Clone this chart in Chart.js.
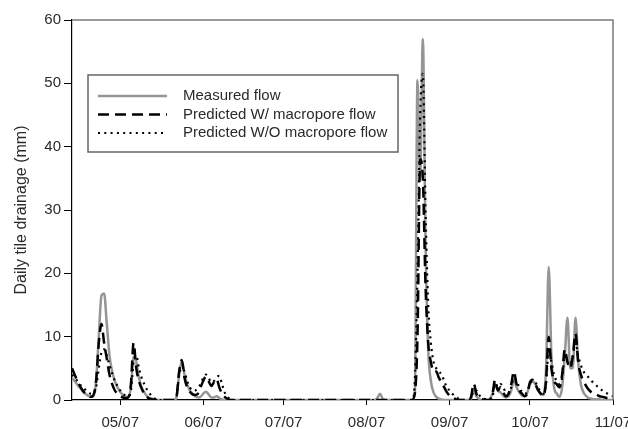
<!DOCTYPE html>
<html>
<head>
<meta charset="utf-8">
<script src="https://cdn.jsdelivr.net/npm/chart.js@4.4.1/dist/chart.umd.min.js"></script>
<style>
  body { margin: 0; background: #fff; }
  canvas { display: block; }
</style>
</head>
<body>
<canvas id="drainChart" width="628" height="429"></canvas>
<script>
// days counted from 2007-04-13 (day 0) to 2007-11-01 (day 202)
const tickDays = [18, 49, 79, 110, 141, 171, 202];
const tickLabels = ['05/07', '06/07', '07/07', '08/07', '09/07', '10/07', '11/07'];
const seriesNames = ['Measured flow', 'Predicted W/ macropore flow', 'Predicted W/O macropore flow'];

// daily tile drainage, mm (one value per day, 10 per row)
const measured = [
  3.5, 3.0, 2.4, 1.9, 1.4, 1.0, 0.7, 0.5, 0.6, 3.0,      // 0
  10, 16.5, 16.8, 12, 7, 4.5, 3, 2, 1.3, 0.8,             // 10
  0.5, 0.5, 2, 6.8, 6, 3.5, 2, 1.2, 0.6, 0.3,             // 20
  0.2, 0.1, 0, 0, 0, 0, 0, 0, 0, 0.4,                     // 30
  4, 6.2, 4, 2.5, 1.5, 1, 0.6, 0.4, 0.5, 1,               // 40
  1.3, 0.9, 0.4, 0.4, 0.6, 0.3, 0.1, 0, 0, 0,             // 50
  0, 0, 0, 0, 0, 0, 0, 0, 0, 0,                           // 60
  0, 0, 0, 0, 0, 0, 0, 0, 0, 0,                           // 70
  0, 0, 0, 0, 0, 0, 0, 0, 0, 0,                           // 80
  0, 0, 0, 0, 0, 0, 0, 0, 0, 0,                           // 90
  0, 0, 0, 0, 0, 0, 0, 0, 0, 0,                           // 100
  0, 0, 0, 0, 0.3, 1.0, 0.2, 0, 0, 0,                     // 110
  0, 0, 0, 0, 0, 0, 0, 0, 1, 50.5,                        // 120
  35, 57, 25, 8, 3, 1.2, 0.5, 0.2, 0.1, 0,                // 130
  0, 0, 0, 0, 0, 0, 0, 0, 0, 0.2,                         // 140
  1.5, 0.6, 0.2, 0, 0, 0, 0.2, 1, 2.5, 1.5,               // 150
  1.2, 0.7, 0.4, 0.6, 1.5, 3.2, 2, 1.2, 0.7, 0.6,         // 160
  1.2, 2.5, 3, 2.5, 1.5, 1, 0.8, 5, 21, 7,                // 170
  2, 1, 0.5, 2, 7, 13, 5, 5, 13, 6,                       // 180
  2.5, 1.2, 0.6, 0.3, 0.2, 0.1, 0.1, 0.1, 0, 0,           // 190
  0, 0, 0                                                 // 200
];

const withMacropore = [
  5, 4, 3, 2.2, 1.5, 1, 0.7, 0.5, 0.8, 3,                 // 0
  9, 12, 9, 6.5, 4, 2.5, 1.5, 1, 0.6, 0.4,                // 10
  0.3, 0.4, 2.5, 9, 5, 3, 1.8, 1, 0.5, 0.2,               // 20
  0.1, 0, 0, 0, 0, 0, 0, 0, 0, 0.5,                       // 30
  4.5, 6.3, 3.5, 2, 1.3, 0.9, 0.8, 1, 2, 3,               // 40
  3.7, 3, 2.2, 2.8, 3.3, 2, 1, 0.5, 0.2, 0,               // 50
  0, 0, 0, 0, 0, 0, 0, 0, 0, 0,                           // 60
  0, 0, 0, 0, 0, 0, 0, 0, 0, 0,                           // 70
  0, 0, 0, 0, 0, 0, 0, 0, 0, 0,                           // 80
  0, 0, 0, 0, 0, 0, 0, 0, 0, 0,                           // 90
  0, 0, 0, 0, 0, 0, 0, 0, 0, 0,                           // 100
  0, 0, 0, 0, 0, 0, 0, 0, 0, 0,                           // 110
  0, 0, 0, 0, 0, 0, 0, 0, 1, 10,                          // 120
  38, 35, 18, 9, 6, 4.5, 4.5, 3.5, 2.8, 2,                // 130
  1.2, 0.7, 0.4, 0.2, 0, 0, 0, 0, 0, 0.5,                 // 140
  2.6, 1, 0.5, 0.2, 0, 0, 0, 1, 3.2, 1.5,                 // 150
  2, 1.2, 0.6, 1, 2.5, 4.5, 2.5, 1.5, 1, 0.6,             // 160
  1, 2.8, 3.2, 2.5, 1.6, 1, 0.6, 3, 10, 5,                // 170
  3, 2.5, 2, 4, 8, 6, 5, 7, 10.5, 6,                      // 180
  4, 3, 2.2, 1.6, 1.2, 1, 0.8, 0.6, 0.5, 0.4,             // 190
  0.3, 0.3, 0.2                                           // 200
];

const withoutMacropore = [
  4, 3.5, 3, 2.4, 2, 1.6, 1.2, 1, 1, 2,                   // 0
  5, 7.5, 8, 7, 5.5, 4.2, 3, 2.2, 1.5, 1,                 // 10
  0.7, 0.6, 1.5, 6, 7, 5, 3.5, 2.5, 1.6, 1,               // 20
  0.5, 0.2, 0, 0, 0, 0, 0, 0, 0, 0.5,                     // 30
  4, 5, 4.5, 3, 2, 1.5, 1.5, 2, 2.5, 3.5,                 // 40
  4, 3.5, 2.8, 3, 3.6, 3.8, 2.5, 1.2, 0.5, 0.2,           // 50
  0, 0, 0, 0, 0, 0, 0, 0, 0, 0,                           // 60
  0, 0, 0, 0, 0, 0, 0, 0, 0, 0,                           // 70
  0, 0, 0, 0, 0, 0, 0, 0, 0, 0,                           // 80
  0, 0, 0, 0, 0, 0, 0, 0, 0, 0,                           // 90
  0, 0, 0, 0, 0, 0, 0, 0, 0, 0,                           // 100
  0, 0, 0, 0, 0, 0, 0, 0, 0, 0,                           // 110
  0, 0, 0, 0, 0, 0, 0, 0, 3, 20,                          // 120
  45, 51.5, 30, 15, 9, 6, 5, 4.5, 4, 3,                   // 130
  2, 1.5, 1, 0.6, 0.3, 0, 0, 0, 0, 0.3,                   // 140
  1.5, 1.5, 0.8, 0.4, 0.2, 0, 0, 0.5, 2.5, 2,             // 150
  2.5, 2, 1.2, 1, 2, 3.5, 3, 2, 1.3, 1,                   // 160
  1.3, 2.5, 3, 2.8, 2, 1.3, 1, 2.5, 8, 6,                 // 170
  4, 3, 2.5, 3.5, 7, 6, 5.5, 7, 9, 7,                     // 180
  5.5, 4.5, 4, 3.5, 3, 2.6, 2.2, 1.8, 1.5, 1.2,           // 190
  1, 0.8, 0.6                                             // 200
];

const FONT = "'Liberation Sans', Arial, sans-serif";

// x qiymatlarini kun raqami bilan bog'lash
function toPoints(values) {
  return values.map((v, i) => ({ x: i, y: v }));
}

// top and right frame lines
const frameLines = {
  id: 'frameLines',
  afterDraw(chart) {
    const { ctx, chartArea: a } = chart;
    ctx.save();
    ctx.strokeStyle = '#7a7a7a';
    ctx.lineWidth = 1.5;
    ctx.beginPath();
    ctx.moveTo(a.left, a.top);
    ctx.lineTo(a.right, a.top);
    ctx.lineTo(a.right, a.bottom);
    ctx.stroke();
    ctx.restore();
  }
};

// legend box drawn inside the plot
const boxLegend = {
  id: 'boxLegend',
  afterDraw(chart) {
    const ctx = chart.ctx;
    const left = 88, top = 75, w = 310, h = 77;
    ctx.save();
    ctx.fillStyle = '#fff';
    ctx.fillRect(left, top, w, h);
    ctx.strokeStyle = '#666';
    ctx.lineWidth = 1.5;
    ctx.strokeRect(left, top, w, h);
    const rows = [96, 114.5, 133];
    chart.data.datasets.forEach((ds, i) => {
      const y = rows[i];
      ctx.beginPath();
      ctx.strokeStyle = ds.borderColor;
      ctx.lineWidth = ds.borderWidth;
      ctx.setLineDash(ds.borderDash || []);
      ctx.moveTo(98, y);
      ctx.lineTo(167, y);
      ctx.stroke();
      ctx.setLineDash([]);
      ctx.fillStyle = '#2a2a2a';
      ctx.font = '15px ' + FONT;
      ctx.textBaseline = 'middle';
      ctx.fillText(ds.label, 183, y);
    });
    ctx.restore();
  }
};

new Chart(document.getElementById('drainChart'), {
  type: 'line',
  data: {
    datasets: [
      {
        label: seriesNames[0],
        data: toPoints(measured),
        borderColor: '#959595',
        borderWidth: 2.5,
        order: 3
      },
      {
        label: seriesNames[1],
        data: toPoints(withMacropore),
        borderColor: '#000',
        borderWidth: 2.5,
        borderDash: [11, 6],
        order: 2
      },
      {
        label: seriesNames[2],
        data: toPoints(withoutMacropore),
        borderColor: '#000',
        borderWidth: 2.2,
        borderDash: [2, 4.3],
        order: 1
      }
    ]
  },
  options: {
    responsive: false,
    animation: false,
    events: [],
    elements: {
      point: { radius: 0 },
      line: { tension: 0.3, cubicInterpolationMode: 'monotone', fill: false }
    },
    layout: { padding: { top: 20, right: 15, left: 0, bottom: 0 } },
    plugins: {
      legend: { display: false },
      tooltip: { enabled: false }
    },
    scales: {
      x: {
        type: 'linear',
        min: 0,
        max: 202,
        afterBuildTicks: s => { s.ticks = tickDays.map(v => ({ value: v })); },
        afterFit: s => { s.height = 29; s.paddingLeft = 0; s.paddingRight = 0; },
        ticks: {
          autoSkip: false,
          maxRotation: 0,
          padding: 9,
          color: '#2a2a2a',
          font: { family: FONT, size: 15 },
          callback: (v, i) => tickLabels[i]
        },
        grid: { display: true, drawOnChartArea: false, drawTicks: true, tickLength: 5, color: '#000', lineWidth: 1 },
        border: { display: true, color: '#000', width: 1.2 }
      },
      y: {
        min: 0,
        max: 60,
        afterFit: s => { s.width = 72; s.paddingTop = 0; s.paddingBottom = 0; },
        ticks: {
          stepSize: 10,
          padding: 3,
          color: '#2a2a2a',
          font: { family: FONT, size: 15 }
        },
        grid: { display: true, drawOnChartArea: false, drawTicks: true, tickLength: 8, color: '#000', lineWidth: 1 },
        border: { display: true, color: '#000', width: 1.2 },
        title: {
          display: true,
          text: 'Daily tile drainage (mm)',
          color: '#2a2a2a',
          font: { family: FONT, size: 16 },
          padding: { top: 12, bottom: 0 }
        }
      }
    }
  },
  plugins: [frameLines, boxLegend]
});
</script>
</body>
</html>
